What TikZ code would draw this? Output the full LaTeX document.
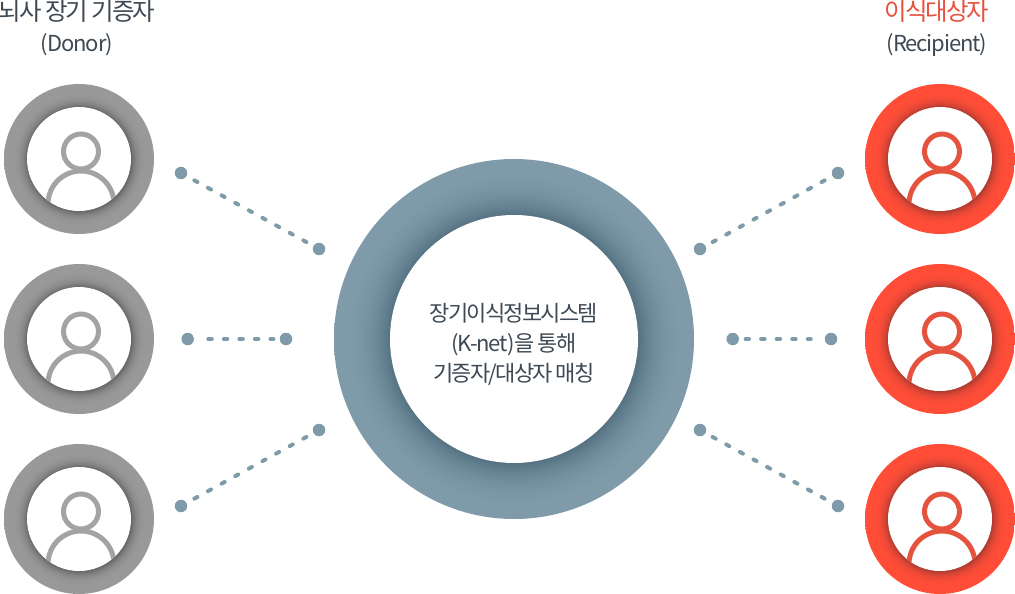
\documentclass[tikz,border=0pt]{standalone}
\usepackage{fontspec}
\setmainfont[LetterSpace=-8]{Noto Sans CJK KR}
\newfontfamily\latinfont[LetterSpace=-5]{Noto Sans CJK KR}
\definecolor{donorcol}{HTML}{999999}
\definecolor{donordark}{HTML}{666666}
\definecolor{donorline}{HTML}{A3A3A3}
\definecolor{recipcol}{HTML}{FF4D38}
\definecolor{recipdark}{HTML}{AD3B30}
\definecolor{reciptext}{HTML}{E8503F}
\definecolor{reciplin}{HTML}{E5533F}
\definecolor{hubcol}{HTML}{7F9BAA}
\definecolor{hubdark}{HTML}{557282}
\definecolor{inktext}{HTML}{3D4954}
\pgfdeclareradialshading{donorshade}{\pgfpoint{0bp}{0bp}}{color(0bp)=(donordark);color(17.3bp)=(donordark);color(18.2bp)=(donorcol!40!donordark);color(19.2bp)=(donorcol!70!donordark);color(20.5bp)=(donorcol!90!donordark);color(22bp)=(donorcol);color(50bp)=(donorcol)}
\pgfdeclareradialshading{recipshade}{\pgfpoint{0bp}{0bp}}{color(0bp)=(recipdark);color(17.3bp)=(recipdark);color(18.2bp)=(recipcol!40!recipdark);color(19.2bp)=(recipcol!70!recipdark);color(20.5bp)=(recipcol!90!recipdark);color(22bp)=(recipcol);color(50bp)=(recipcol)}
\pgfdeclareradialshading{hubshade}{\pgfpoint{0bp}{0bp}}{color(0bp)=(hubdark);color(17.2bp)=(hubdark);color(18.3bp)=(hubcol!35!hubdark);color(19.6bp)=(hubcol!65!hubdark);color(21.2bp)=(hubcol!88!hubdark);color(23bp)=(hubcol);color(50bp)=(hubcol)}
\tikzset{
  ring/.style={circle,inner sep=0pt,outer sep=0pt,minimum size=150pt},
  hole/.style={circle,fill=white,inner sep=0pt,outer sep=0pt,minimum size=104pt},
  dot/.style={circle,fill=hubcol,inner sep=0pt,outer sep=0pt,minimum size=12.5pt},
  link/.style={hubcol,line width=4pt,line cap=round,dash pattern=on 3.5pt off 12.05pt,shorten >=7.8pt,shorten <=9pt},
  head/.style={font=\fontsize{24.5}{25}\selectfont,inner sep=0pt,text=inktext},
  sub/.style={font=\fontsize{22}{22}\selectfont\latinfont,inner sep=0pt,text=inktext},
  person/.pic={
    \begin{scope}
      \clip (0,0) circle (52);
      \draw[line width=5pt] (2,-7.5) circle (17.5);
      \draw[line width=5pt] (2,45) circle (33);
    \end{scope}
  }
}
\begin{document}
\begin{tikzpicture}[x=1pt,y=-1pt]
\useasboundingbox (0,0) rectangle (1015,594);

% Donor and recipient rings
\foreach \name/\ypos in {1/159,2/339,3/519} {
  \node[ring,shading=donorshade] (don\name) at (79,\ypos) {};
  \node[hole] (donhole\name) at (don\name) {};
  \pic[color=donorline] at (don\name) {person};
  \node[ring,shading=recipshade] (rec\name) at (940,\ypos) {};
  \node[hole] (rechole\name) at (rec\name) {};
  \pic[color=reciplin] at (rec\name) {person};
}

% Central ring
\node[ring,minimum size=360pt,shading=hubshade] (hub) at (514,339) {};
\node[hole,minimum size=248pt] (hubhole) at (hub) {};
\node[font=\fontsize{22}{30}\selectfont,text=inktext,align=center,inner sep=0pt] (hubtext) at (514,344)
  {장기이식정보시스템\\{\latinfont (K-net)}을 통해\\기증자/대상자 매칭};

% Titles
\node[head] (dontitle) at (77,11) {뇌사 장기 기증자};
\node[sub] (donsub) at (77,45) {(Donor)};
\node[head,text=reciptext] (rectitle) at (937,11) {이식대상자};
\node[sub] (recsub) at (937,45) {(Recipient)};

% End dots of the links
\node[dot] (la) at (181,173) {};
\node[dot] (lb) at (319,249) {};
\node[dot] (lc) at (187.7,339) {};
\node[dot] (ld) at (286,339) {};
\node[dot] (le) at (181,506) {};
\node[dot] (lf) at (319,430) {};
\node[dot] (ra) at (838,173) {};
\node[dot] (rb) at (700,249) {};
\node[dot] (rc) at (831,339) {};
\node[dot] (rd) at (732.7,339) {};
\node[dot] (re) at (838,506) {};
\node[dot] (rf) at (700,430) {};

% Dotted links
\draw[link] (la) -- (lb);
\draw[link,shorten <=14.3pt,shorten >=6.3pt] (lc) -- (ld);
\draw[link] (le) -- (lf);
\draw[link] (ra) -- (rb);
\draw[link,shorten <=6.6pt,shorten >=14pt] (rd) -- (rc);
\draw[link] (re) -- (rf);

\end{tikzpicture}
\end{document}
